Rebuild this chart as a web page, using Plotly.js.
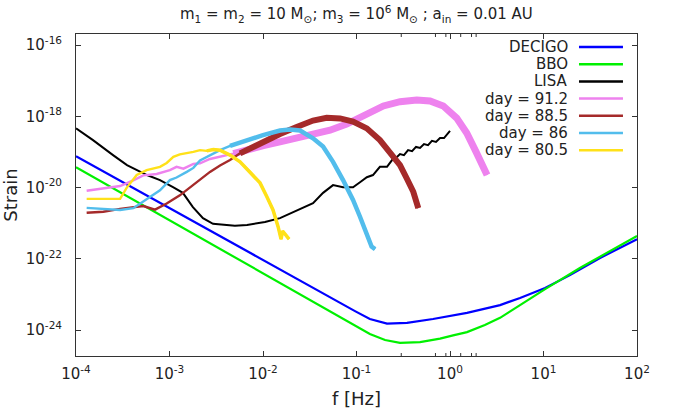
<!DOCTYPE html>
<html><head><meta charset="utf-8">
<script src="https://cdn.plot.ly/plotly-3.0.1.min.js"></script>
<style>html,body{margin:0;padding:0;background:#fff}#chart{width:688px;height:418px}</style>
</head><body><div id="chart"></div>
<script>
// ---- data ----
const decigoF = [1e-4, 1e-2, 6.31e-2, 9.64e-2, 0.139, 0.212, 0.347, 0.658, 1.52, 3.43, 5.61, 10.4, 19.2, 40.2, 100];
const decigoH = [7.59e-20, 8.91e-23, 6.03e-24, 3.39e-24, 2.04e-24, 1.51e-24, 1.58e-24, 2.04e-24, 3.02e-24, 5.01e-24, 7.94e-24, 1.51e-23, 3.47e-23, 1.05e-22, 3.55e-22];

const bboF = [1e-4, 6.67e-2, 9.64e-2, 0.139, 0.202, 0.292, 0.478, 0.782, 1.08, 1.52, 2.36, 3.43, 5.61, 10.4, 24.5, 100];
const bboH = [3.72e-20, 2.40e-24, 1.38e-24, 7.76e-25, 5.25e-25, 4.37e-25, 4.57e-25, 5.75e-25, 7.08e-25, 8.71e-25, 1.38e-24, 2.19e-24, 5.01e-24, 1.41e-23, 5.50e-23, 4.37e-22];

const lisaF = [1e-4, 1.52e-4, 2.49e-4, 3.51e-4, 5.74e-4, 7.91e-4, 1.09e-3, 1.39e-3, 1.78e-3, 2.28e-3, 2.92e-3, 3.73e-3, 5.01e-3, 6.75e-3, 1.05e-2, 1.52e-2, 2.49e-2, 3.43e-2, 4.39e-2, 5.61e-2, 7.18e-2, 9.18e-2, 0.109, 0.129, 0.150, 0.178, 0.212, 0.240, 0.271, 0.292, 0.322, 0.356, 0.393, 0.433, 0.478, 0.527, 0.582, 0.641, 0.708, 0.782, 0.863, 0.953, 1.0];
const lisaH = [4.57e-19, 2.14e-19, 8.13e-20, 4.27e-20, 2.24e-20, 1.62e-20, 1.02e-20, 7.08e-21, 2.82e-21, 1.38e-21, 9.55e-22, 8.91e-22, 8.51e-22, 8.91e-22, 1.07e-21, 1.38e-21, 2.51e-21, 3.63e-21, 7.08e-21, 1.17e-20, 1.02e-20, 1.02e-20, 1.41e-20, 1.95e-20, 2.24e-20, 3.80e-20, 3.80e-20, 5.89e-20, 7.24e-20, 8.71e-20, 8.13e-20, 1.12e-19, 1.05e-19, 1.38e-19, 1.29e-19, 1.66e-19, 1.55e-19, 2.04e-19, 1.91e-19, 2.45e-19, 2.45e-19, 3.39e-19, 3.89e-19];

const day912F = [1.30e-4, 1.96e-4, 2.96e-4, 4.10e-4, 5.25e-4, 7.29e-4, 1.01e-3, 1.19e-3, 1.41e-3, 1.80e-3, 2.12e-3, 2.71e-3, 3.47e-3, 4.81e-3, 6.70e-3, 1.01e-2, 1.52e-2, 2.29e-2, 3.45e-2, 5.21e-2, 7.85e-2, 0.129, 0.194, 0.292, 0.441, 0.611, 0.847, 1.18, 1.51, 1.90, 2.25, 2.49];
const day912H = [8.13e-21, 9.55e-21, 1.10e-20, 1.58e-20, 2.19e-20, 2.40e-20, 3.09e-20, 3.80e-20, 3.39e-20, 4.57e-20, 4.79e-20, 6.31e-20, 7.24e-20, 8.91e-20, 1.17e-19, 1.51e-19, 1.91e-19, 2.40e-19, 3.09e-19, 4.07e-19, 6.03e-19, 1.23e-18, 1.95e-18, 2.57e-18, 2.88e-18, 2.69e-18, 1.95e-18, 8.91e-19, 3.39e-19, 1.0e-19, 4.27e-20, 2.24e-20];

const day885F = [1.30e-4, 1.96e-4, 2.96e-4, 5.25e-4, 7.00e-4, 9.33e-4, 1.29e-3, 1.66e-3, 2.12e-3, 2.71e-3, 3.47e-3, 4.44e-3, 5.68e-3, 7.26e-3, 1.0e-2, 1.52e-2, 2.29e-2, 3.43e-2, 4.80e-2, 6.67e-2, 9.18e-2, 0.129, 0.178, 0.228, 0.292, 0.344, 0.405, 0.458];
const day885H = [1.95e-21, 2.09e-21, 2.51e-21, 3.02e-21, 2.40e-21, 3.55e-21, 6.03e-21, 1.02e-20, 1.74e-20, 2.75e-20, 4.17e-20, 5.89e-20, 9.12e-20, 1.26e-19, 1.95e-19, 3.16e-19, 5.01e-19, 7.59e-19, 9.12e-19, 8.71e-19, 7.08e-19, 4.57e-19, 2.14e-19, 1.0e-19, 4.27e-20, 1.82e-20, 7.59e-21, 2.63e-21];

const day86F = [1.30e-4, 1.96e-4, 2.96e-4, 4.10e-4, 5.70e-4, 7.91e-4, 1.01e-3, 1.19e-3, 1.53e-3, 1.80e-3, 2.12e-3, 2.71e-3, 3.47e-3, 4.44e-3, 6.70e-3, 1.0e-2, 1.52e-2, 1.95e-2, 2.49e-2, 3.43e-2, 4.39e-2, 5.61e-2, 7.18e-2, 9.18e-2, 0.109, 0.129, 0.145, 0.158];
const day86H = [2.69e-21, 2.45e-21, 2.34e-21, 2.63e-21, 4.79e-21, 8.32e-21, 1.62e-20, 1.91e-20, 2.75e-20, 3.55e-20, 5.75e-20, 8.13e-20, 1.12e-19, 1.48e-19, 2.14e-19, 2.95e-19, 3.98e-19, 4.27e-19, 3.98e-19, 2.40e-19, 1.41e-19, 5.25e-20, 1.62e-20, 4.47e-21, 1.51e-21, 5.25e-22, 2.19e-22, 1.86e-22];

const day805F = [1.30e-4, 2.96e-4, 3.48e-4, 4.46e-4, 5.70e-4, 7.91e-4, 9.33e-4, 1.10e-3, 1.29e-3, 1.53e-3, 1.80e-3, 2.12e-3, 2.50e-3, 2.94e-3, 3.47e-3, 4.44e-3, 5.68e-3, 7.26e-3, 9.29e-3, 1.10e-2, 1.28e-2, 1.45e-2, 1.56e-2, 1.62e-2, 1.90e-2];
const day805H = [4.79e-21, 4.79e-21, 9.77e-21, 2.24e-20, 3.09e-20, 3.80e-20, 4.90e-20, 7.24e-20, 8.51e-20, 9.12e-20, 1.0e-19, 1.12e-19, 1.07e-19, 1.17e-19, 1.12e-19, 8.13e-20, 5.25e-20, 2.75e-20, 1.35e-20, 5.50e-21, 2.34e-21, 7.94e-22, 3.55e-22, 6.03e-22, 3.55e-22];

const seriesNames = ['DECIGO', 'BBO', 'LISA', 'day = 91.2', 'day = 88.5', 'day = 86', 'day = 80.5'];

const xTickVals = [1e-4, 1e-3, 1e-2, 1e-1, 1, 10, 100];
const xTickText = ['10<sup>-4</sup>', '10<sup>-3</sup>', '10<sup>-2</sup>', '10<sup>-1</sup>', '10<sup>0</sup>', '10<sup>1</sup>', '10<sup>2</sup>'];
const yTickVals = [1e-24, 1e-22, 1e-20, 1e-18, 1e-16];
const yTickText = ['10<sup>-24</sup>', '10<sup>-22</sup>', '10<sup>-20</sup>', '10<sup>-18</sup>', '10<sup>-16</sup>'];

// ---- styles ----
const styles = [
  {color: '#0000ff', width: 2.2},
  {color: '#00f000', width: 2.2},
  {color: '#000000', width: 2},
  {color: '#ee82ee', width: 2.4, thick: 7, thickFrom: 4.5e-3},
  {color: '#a52a2a', width: 2.4, thick: 6, thickFrom: 4.5e-3},
  {color: '#52bdec', width: 2.4, thick: 4.5, thickFrom: 3.5e-3},
  {color: '#ffe119', width: 2.4, thick: 3.5, thickFrom: 2.5e-3}
];
const dataSets = [[decigoF, decigoH], [bboF, bboH], [lisaF, lisaH], [day912F, day912H], [day885F, day885H], [day86F, day86H], [day805F, day805H]];

const traces = [];
dataSets.forEach(([f, h], i) => {
  const s = styles[i];
  traces.push({x: f, y: h, type: 'scatter', mode: 'lines', name: seriesNames[i], showlegend: false,
    line: {color: s.color, width: s.width}, hoverinfo: 'skip'});
  if (s.thick) {
    const fx = [], hy = [];
    f.forEach((v, k) => { if (v >= s.thickFrom) { fx.push(v); hy.push(h[k]); } });
    traces.push({x: fx, y: hy, type: 'scatter', mode: 'lines', showlegend: false,
      line: {color: s.color, width: s.thick}, hoverinfo: 'skip'});
  }
});

// minor ticks (axis decoration): 2, 5, 8 in each decade on x; odd powers on y
const xMinorLog = [];
for (let e = -4; e < 2; e++) [2, 5, 8].forEach(m => xMinorLog.push(Math.log10(m * Math.pow(10, e))));
const yMinorLog = [-23, -21, -19, -17];
const tickLine = {color: '#333', width: 1};
const shapes = [];
xMinorLog.forEach(v => {
  shapes.push({type: 'line', xref: 'x', yref: 'paper', ysizemode: 'pixel', yanchor: 0, x0: v, x1: v, y0: 0, y1: 3, line: tickLine, layer: 'above'});
  shapes.push({type: 'line', xref: 'x', yref: 'paper', ysizemode: 'pixel', yanchor: 1, x0: v, x1: v, y0: 0, y1: -3, line: tickLine, layer: 'above'});
});
yMinorLog.forEach(v => {
  shapes.push({type: 'line', xref: 'paper', yref: 'y', xsizemode: 'pixel', xanchor: 0, y0: v, y1: v, x0: 0, x1: 3, line: tickLine, layer: 'above'});
  shapes.push({type: 'line', xref: 'paper', yref: 'y', xsizemode: 'pixel', xanchor: 1, y0: v, y1: v, x0: 0, x1: -3, line: tickLine, layer: 'above'});
});

// custom legend (text left of the line sample)
const annotations = [];
const legTop = 0.9596, legStep = 0.0534;
seriesNames.forEach((n, i) => {
  const y = legTop - i * legStep;
  annotations.push({xref: 'paper', yref: 'paper', x: 0.8806, y: y, xanchor: 'right', yanchor: 'middle',
    text: n, showarrow: false, font: {family: 'DejaVu Sans', size: 15, color: '#222'}});
  shapes.push({type: 'line', xref: 'paper', yref: 'paper', x0: 0.8966, x1: 0.975, y0: y, y1: y,
    line: {color: styles[i].color, width: 2.5}});
});

const axisCommon = {
  showgrid: false, zeroline: false, showline: true, linecolor: '#333', linewidth: 1,
  mirror: 'allticks', ticks: 'inside', ticklen: 5, tickcolor: '#333', tickwidth: 1,
  tickfont: {family: 'DejaVu Sans', size: 15, color: '#222'}
};

const layout = {
  width: 688, height: 418,
  margin: {l: 76, r: 51, t: 34, b: 62},
  paper_bgcolor: '#fff', plot_bgcolor: '#fff',
  font: {family: 'DejaVu Sans', color: '#222'},
  title: {text: 'm<sub>1</sub> = m<sub>2</sub> = 10 M<sub>⊙</sub>; m<sub>3</sub> = 10<sup>6</sup> M<sub>⊙</sub> ; a<sub>in</sub> = 0.01 AU',
    font: {family: 'DejaVu Sans', size: 15, color: '#222'}, x: 0.518, xanchor: 'center', xref: 'container', y: 0.966, yanchor: 'middle', yref: 'container'},
  xaxis: Object.assign({}, axisCommon, {
    type: 'log', range: [-4, 2], tickmode: 'array', tickvals: xTickVals, ticktext: xTickText,
    ticklabelstandoff: 4,
    title: {text: 'f [Hz]', font: {family: 'DejaVu Sans', size: 18, color: '#222'}, standoff: 10}
  }),
  yaxis: Object.assign({}, axisCommon, {
    type: 'log', range: [-24.73, -15.69], tickmode: 'array', tickvals: yTickVals, ticktext: yTickText,
    ticklabelstandoff: 10,
    title: {text: 'Strain', font: {family: 'DejaVu Sans', size: 18, color: '#222'}, standoff: 6}
  }),
  showlegend: false,
  annotations: annotations,
  shapes: shapes
};

Plotly.newPlot('chart', traces, layout, {staticPlot: true, displayModeBar: false});
</script>
</body></html>
